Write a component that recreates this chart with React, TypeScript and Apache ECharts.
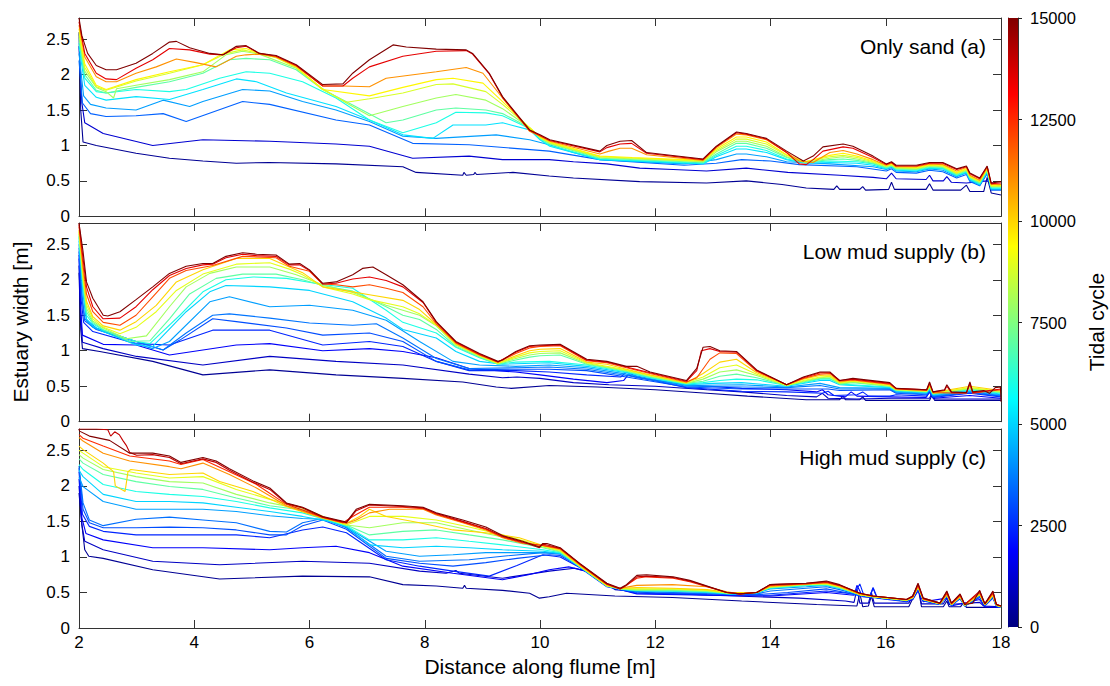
import React, { useEffect, useRef } from "react";
import * as echarts from "echarts";

type Pt = [number, number];

const X_MIN = 2, X_MAX = 18, X_STEP = 2;
const Y_MIN = 0, Y_MAX = 2.8, Y_STEP = 0.5;
const CYCLE_MIN = 0, CYCLE_MAX = 15000, CYCLE_STEP = 2500;

const PANEL_TITLES = ["Only sand (a)", "Low mud supply (b)", "High mud supply (c)"];
const X_TITLE = "Distance along flume [m]";
const Y_TITLE = "Estuary width [m]";
const CBAR_TITLE = "Tidal cycle";

// ---------------- Panel (a) Only sand ----------------
const A_CYCLES = [300, 1200, 3300, 4200, 5200, 6000, 7000, 8000, 8800, 9500, 11000, 13500, 15000];
const A_0300: Pt[] = [[2,2.6],[2.03,1.5],[2.07,1.05],[2.3,1.0],[2.99,0.89],[3.57,0.82],[4.15,0.78],[4.73,0.75],[5.3,0.76],[6.46,0.74],[7.62,0.7],[7.85,0.62],[8.66,0.58],[8.68,0.62],[8.72,0.58],[8.85,0.59],[8.87,0.62],[8.9,0.59],[9.53,0.62],[10.16,0.57],[10.58,0.54],[11.73,0.49],[12.89,0.47],[13.58,0.5],[14.2,0.45],[14.62,0.4],[15.1,0.38],[15.15,0.43],[15.2,0.38],[15.55,0.38],[15.6,0.42],[15.65,0.37],[16.05,0.38],[16.1,0.48],[16.15,0.38],[16.7,0.38],[16.76,0.46],[16.82,0.37],[17.3,0.37],[17.4,0.44],[17.46,0.35],[17.7,0.35],[17.76,0.55],[17.83,0.33],[18,0.3]];
const A_1200: Pt[] = [[2,2.4],[2.05,1.6],[2.1,1.32],[2.42,1.17],[3.28,1.0],[4.15,1.08],[5.31,1.06],[6.46,1.02],[7.04,0.99],[7.79,0.82],[8.77,0.85],[9.35,0.8],[10.16,0.8],[10.58,0.77],[11.16,0.74],[11.73,0.68],[12.31,0.66],[12.89,0.64],[13.58,0.68],[14.3,0.62],[15.2,0.58],[15.78,0.55],[16.01,0.53],[16.1,0.61],[16.18,0.53],[16.7,0.52],[16.76,0.58],[16.82,0.5],[17.0,0.5],[17.06,0.56],[17.14,0.48],[17.4,0.47],[17.76,0.5],[18,0.42]];
const A_3300: Pt[] = [[2,2.2],[2.06,1.6],[2.2,1.45],[2.47,1.41],[2.99,1.42],[3.46,1.45],[3.86,1.34],[4.84,1.62],[5.31,1.58],[6.46,1.36],[7.04,1.29],[7.79,1.03],[8.77,1.01],[10.16,0.92],[11.04,0.8],[12.5,0.72],[13.06,0.75],[13.5,0.8],[14.0,0.78],[14.5,0.73],[15.5,0.7],[16.01,0.64],[16.1,0.67],[16.18,0.62],[16.53,0.61],[16.76,0.65],[16.99,0.63],[17.23,0.54],[17.4,0.59],[17.46,0.49],[17.63,0.43],[17.76,0.6],[17.83,0.37],[18,0.37]];
const A_4200: Pt[] = [[2,2.3],[2.08,1.7],[2.2,1.58],[2.47,1.53],[2.99,1.5],[3.46,1.64],[3.92,1.55],[4.15,1.62],[4.84,1.79],[5.31,1.77],[5.88,1.62],[6.46,1.5],[7.04,1.34],[7.62,1.13],[8.2,1.1],[9.24,1.15],[9.82,1.08],[10.16,1.01],[10.58,0.9],[11.04,0.8],[12.5,0.74],[13.06,0.8],[13.41,0.88],[13.58,0.88],[13.93,0.84],[14.28,0.77],[15.03,0.74],[15.78,0.7],[16.01,0.66],[16.1,0.69],[16.18,0.64],[16.53,0.63],[16.76,0.67],[16.99,0.65],[17.23,0.56],[17.4,0.61],[17.46,0.51],[17.63,0.44],[17.76,0.62],[17.83,0.38],[18,0.38]];
const A_5200: Pt[] = [[2,2.4],[2.1,1.85],[2.3,1.68],[2.47,1.64],[2.99,1.69],[3.57,1.65],[4.15,1.79],[4.73,1.94],[5.08,1.9],[5.6,1.74],[6.46,1.55],[7.04,1.36],[7.62,1.15],[8.14,1.1],[8.49,1.29],[9.06,1.29],[9.35,1.32],[9.82,1.22],[10.0,1.08],[10.17,0.99],[11.04,0.8],[12.83,0.74],[13.06,0.84],[13.41,0.95],[13.58,0.95],[13.93,0.9],[14.28,0.8],[14.6,0.75],[15.03,0.76],[15.5,0.75],[15.78,0.72],[16.01,0.67],[16.1,0.7],[16.18,0.65],[16.53,0.64],[16.76,0.68],[16.99,0.67],[17.23,0.57],[17.4,0.62],[17.46,0.52],[17.63,0.45],[17.76,0.63],[17.83,0.39],[18,0.39]];
const A_6000: Pt[] = [[2,2.45],[2.1,1.95],[2.3,1.76],[2.47,1.74],[2.99,1.79],[3.57,1.76],[3.86,1.79],[4.44,1.95],[4.9,2.04],[5.31,2.02],[5.88,1.9],[6.46,1.67],[7.04,1.36],[7.62,1.18],[8.2,1.32],[8.54,1.47],[9.06,1.46],[9.35,1.42],[9.82,1.24],[10.0,1.09],[10.17,1.0],[11.04,0.81],[12.83,0.75],[13.06,0.86],[13.41,0.99],[13.58,0.99],[13.93,0.93],[14.28,0.81],[14.6,0.76],[15.03,0.78],[15.5,0.77],[15.78,0.74],[16.01,0.68],[16.1,0.71],[16.18,0.66],[16.53,0.65],[16.76,0.69],[16.99,0.68],[17.23,0.58],[17.4,0.63],[17.46,0.53],[17.63,0.46],[17.76,0.64],[17.83,0.4],[18,0.4]];
const A_7000: Pt[] = [[2,2.5],[2.1,2.0],[2.3,1.78],[2.47,1.74],[2.99,1.82],[3.57,1.9],[4.15,2.02],[4.61,2.21],[4.9,2.23],[5.31,2.21],[5.77,2.07],[6.23,1.79],[6.75,1.57],[7.33,1.32],[7.62,1.36],[8.2,1.5],[8.54,1.53],[9.06,1.5],[9.35,1.45],[9.82,1.25],[10.0,1.1],[10.17,1.02],[11.04,0.82],[12.83,0.76],[13.06,0.88],[13.41,1.03],[13.58,1.03],[13.93,0.96],[14.28,0.83],[14.6,0.76],[15.03,0.8],[15.26,0.81],[15.5,0.79],[15.78,0.75],[16.01,0.69],[16.1,0.71],[16.18,0.67],[16.53,0.66],[16.76,0.7],[16.99,0.69],[17.23,0.59],[17.4,0.64],[17.46,0.54],[17.63,0.47],[17.76,0.65],[17.83,0.41],[18,0.41]];
const A_8000: Pt[] = [[2,2.55],[2.1,2.05],[2.3,1.82],[2.47,1.76],[2.6,1.67],[2.65,1.8],[2.99,1.85],[3.57,1.93],[4.15,2.04],[4.55,2.28],[4.84,2.33],[5.13,2.29],[5.77,2.09],[6.23,1.8],[6.64,1.6],[7.04,1.42],[7.62,1.55],[8.2,1.67],[8.54,1.72],[9.06,1.64],[9.35,1.52],[9.82,1.25],[10.0,1.11],[10.17,1.03],[11.04,0.83],[12.83,0.77],[13.06,0.91],[13.41,1.06],[13.58,1.06],[13.93,0.99],[14.28,0.84],[14.6,0.76],[15.03,0.82],[15.26,0.84],[15.5,0.81],[15.78,0.76],[16.01,0.7],[16.1,0.72],[16.18,0.68],[16.53,0.67],[16.76,0.71],[16.99,0.7],[17.23,0.6],[17.4,0.65],[17.46,0.55],[17.63,0.48],[17.76,0.66],[17.83,0.42],[18,0.42]];
const A_8800: Pt[] = [[2,2.6],[2.1,2.1],[2.3,1.83],[2.47,1.78],[2.99,1.91],[3.57,2.02],[4.15,2.14],[4.55,2.3],[4.84,2.35],[5.13,2.3],[5.42,2.24],[5.77,2.1],[6.23,1.79],[6.64,1.61],[7.04,1.66],[7.62,1.74],[8.2,1.86],[8.49,1.87],[9.06,1.76],[9.35,1.58],[9.82,1.25],[10.0,1.12],[10.17,1.04],[11.04,0.84],[12.5,0.79],[12.83,0.78],[13.06,0.93],[13.41,1.09],[13.58,1.09],[13.93,1.02],[14.28,0.86],[14.6,0.77],[15.03,0.84],[15.26,0.86],[15.5,0.83],[15.78,0.77],[16.01,0.71],[16.1,0.73],[16.18,0.69],[16.53,0.68],[16.76,0.72],[16.99,0.71],[17.23,0.61],[17.4,0.66],[17.46,0.56],[17.63,0.49],[17.76,0.67],[17.83,0.43],[18,0.43]];
const A_9500: Pt[] = [[2,2.65],[2.1,2.15],[2.3,1.85],[2.47,1.79],[2.99,1.93],[3.57,2.04],[4.15,2.14],[4.61,2.35],[4.9,2.37],[5.13,2.3],[5.42,2.25],[5.77,2.11],[6.23,1.79],[7.04,1.7],[7.62,1.82],[8.2,1.93],[8.49,1.95],[9.01,1.88],[9.35,1.62],[9.82,1.25],[10.0,1.12],[10.17,1.05],[11.04,0.85],[11.6,0.83],[12.5,0.8],[12.83,0.79],[13.06,0.95],[13.41,1.12],[13.58,1.12],[13.93,1.05],[14.28,0.87],[14.6,0.77],[15.03,0.86],[15.26,0.89],[15.5,0.85],[15.78,0.78],[16.01,0.72],[16.1,0.74],[16.18,0.7],[16.53,0.69],[16.76,0.73],[16.99,0.72],[17.23,0.62],[17.4,0.67],[17.46,0.57],[17.63,0.5],[17.76,0.68],[17.83,0.44],[18,0.44]];
const A_11000: Pt[] = [[2,2.7],[2.1,2.25],[2.3,1.97],[2.47,1.9],[2.65,1.9],[2.99,2.02],[3.34,2.11],[3.69,2.22],[4.03,2.17],[4.38,2.11],[4.73,2.26],[4.9,2.28],[5.13,2.29],[5.42,2.25],[5.77,2.12],[6.23,1.84],[6.58,1.84],[7.04,1.83],[7.33,1.95],[8.2,2.04],[8.72,2.1],[9.01,2.02],[9.35,1.67],[9.82,1.2],[10.0,1.13],[10.17,1.06],[11.04,0.88],[11.2,0.92],[11.39,0.96],[11.59,0.96],[11.85,0.87],[12.83,0.79],[13.06,0.97],[13.41,1.16],[13.58,1.15],[13.93,1.08],[14.28,0.9],[14.5,0.78],[14.74,0.76],[15.03,0.9],[15.26,0.93],[15.5,0.88],[15.78,0.8],[16.01,0.72],[16.1,0.75],[16.18,0.7],[16.53,0.7],[16.76,0.74],[16.99,0.73],[17.23,0.64],[17.4,0.69],[17.46,0.58],[17.63,0.51],[17.76,0.69],[17.83,0.45],[18,0.45]];
const A_13500: Pt[] = [[2,2.75],[2.1,2.3],[2.3,2.02],[2.47,1.94],[2.65,1.93],[2.99,2.09],[3.28,2.21],[3.57,2.37],[3.92,2.35],[4.27,2.29],[4.5,2.28],[4.73,2.38],[4.9,2.4],[5.13,2.3],[5.42,2.26],[5.77,2.13],[6.23,1.84],[6.58,1.84],[6.75,1.95],[7.04,2.11],[7.62,2.26],[8.2,2.33],[8.72,2.34],[8.83,2.29],[9.12,2.01],[9.35,1.68],[9.82,1.21],[10.0,1.14],[10.17,1.07],[11.04,0.91],[11.16,0.97],[11.39,1.02],[11.59,1.03],[11.85,0.89],[12.83,0.8],[13.06,0.98],[13.41,1.18],[13.58,1.16],[13.93,1.09],[14.28,0.9],[14.5,0.74],[14.62,0.73],[14.74,0.8],[14.91,0.92],[15.26,0.98],[15.43,0.96],[15.78,0.83],[16.01,0.73],[16.1,0.76],[16.18,0.71],[16.53,0.71],[16.76,0.75],[16.99,0.75],[17.23,0.66],[17.4,0.7],[17.46,0.6],[17.63,0.53],[17.76,0.7],[17.83,0.46],[18,0.47]];
const A_15000: Pt[] = [[2,2.8],[2.05,2.55],[2.15,2.3],[2.3,2.13],[2.47,2.07],[2.65,2.07],[2.99,2.16],[3.28,2.3],[3.57,2.46],[3.69,2.47],[3.92,2.38],[4.27,2.3],[4.5,2.28],[4.73,2.4],[4.9,2.41],[5.13,2.3],[5.42,2.27],[5.77,2.14],[6.23,1.86],[6.58,1.87],[6.75,2.02],[7.04,2.21],[7.45,2.42],[7.68,2.39],[8.2,2.36],[8.72,2.35],[8.83,2.3],[9.12,2.02],[9.35,1.69],[9.82,1.22],[10.0,1.15],[10.17,1.08],[11.04,0.92],[11.16,1.0],[11.39,1.06],[11.59,1.07],[11.85,0.9],[12.83,0.81],[13.06,0.99],[13.41,1.19],[13.58,1.17],[13.93,1.1],[14.28,0.92],[14.57,0.78],[14.74,0.85],[14.91,0.98],[15.26,1.02],[15.43,0.99],[15.78,0.85],[16.01,0.74],[16.1,0.77],[16.18,0.72],[16.53,0.72],[16.76,0.76],[16.99,0.76],[17.23,0.67],[17.4,0.71],[17.46,0.61],[17.63,0.54],[17.76,0.71],[17.83,0.47],[18,0.49]];
const A_LINES: Pt[][] = [A_0300, A_1200, A_3300, A_4200, A_5200, A_6000, A_7000, A_8000, A_8800, A_9500, A_11000, A_13500, A_15000];

// ---------------- Panel (b) Low mud supply ----------------
const B_CYCLES = [300, 1000, 1800, 2400, 3000, 3600, 4200, 5000, 6000, 7000, 8000, 9000, 10000, 12000, 13500, 15000];
const B_0300: Pt[] = [[2,2.1],[2.03,1.3],[2.06,1.03],[2.36,0.99],[3.28,0.85],[4.15,0.66],[5.31,0.73],[6.46,0.66],[7.62,0.61],[8.66,0.56],[9.24,0.49],[9.5,0.47],[10.16,0.51],[11.0,0.49],[12.0,0.45],[12.9,0.4],[13.6,0.36],[14.62,0.31],[15.2,0.31],[15.26,0.36],[15.3,0.31],[15.55,0.31],[15.6,0.35],[15.65,0.3],[16.76,0.3],[16.8,0.37],[16.85,0.3],[18,0.3]];
const B_1000: Pt[] = [[2,2.2],[2.03,1.5],[2.06,1.12],[2.42,1.03],[3.0,0.92],[4.15,0.8],[5.31,0.92],[6.46,0.85],[7.62,0.8],[8.77,0.67],[9.35,0.62],[9.6,0.63],[10.0,0.61],[10.58,0.55],[11.2,0.52],[12.0,0.5],[12.9,0.45],[13.5,0.42],[14.28,0.37],[14.8,0.35],[14.9,0.4],[15.0,0.33],[15.5,0.32],[16.1,0.33],[16.76,0.33],[16.8,0.4],[16.85,0.32],[18,0.32]];
const B_1800: Pt[] = [[2,2.3],[2.03,1.6],[2.06,1.22],[2.42,1.09],[2.99,1.08],[3.57,0.94],[4.73,1.08],[5.31,1.1],[6.23,1.0],[7.04,1.03],[7.62,0.99],[8.2,0.9],[8.77,0.75],[9.58,0.7],[10.0,0.66],[10.58,0.6],[11.16,0.55],[11.45,0.58],[11.53,0.66],[11.7,0.62],[12.54,0.52],[13.5,0.47],[14.28,0.45],[14.8,0.42],[14.9,0.45],[15.0,0.38],[15.3,0.35],[15.4,0.42],[15.5,0.36],[16.07,0.35],[16.7,0.34],[16.76,0.42],[16.82,0.33],[17.46,0.37],[18,0.33]];
const B_2400: Pt[] = [[2,2.35],[2.04,1.7],[2.08,1.4],[2.24,1.27],[2.99,1.1],[3.57,1.08],[4.32,1.29],[5.31,1.29],[6.23,1.08],[7.04,1.13],[7.62,1.06],[8.2,0.85],[8.77,0.72],[9.58,0.72],[10.16,0.7],[10.81,0.66],[11.4,0.63],[11.5,0.7],[11.7,0.63],[12.54,0.48],[13.5,0.43],[14.28,0.42],[14.9,0.4],[15.0,0.43],[15.1,0.37],[15.5,0.38],[15.6,0.42],[15.7,0.36],[16.07,0.36],[16.18,0.38],[16.71,0.36],[16.76,0.42],[16.82,0.34],[17.46,0.4],[18,0.35]];
const B_3000: Pt[] = [[2,2.4],[2.05,1.75],[2.1,1.42],[2.3,1.3],[2.99,1.13],[3.46,1.01],[3.75,1.15],[4.32,1.45],[4.73,1.41],[5.6,1.32],[6.23,1.22],[7.04,1.25],[7.62,1.13],[8.2,0.85],[8.77,0.73],[9.58,0.74],[10.16,0.74],[10.81,0.72],[11.5,0.63],[12.54,0.49],[13.5,0.46],[14.28,0.46],[15.0,0.46],[15.2,0.44],[16.07,0.45],[16.18,0.4],[16.71,0.38],[16.76,0.43],[16.82,0.35],[17.46,0.41],[18,0.36]];
const B_3600: Pt[] = [[2,2.45],[2.05,1.8],[2.1,1.45],[2.3,1.32],[2.99,1.13],[3.46,1.01],[3.86,1.25],[4.32,1.5],[4.61,1.52],[5.31,1.46],[6.0,1.39],[6.75,1.36],[7.16,1.38],[7.62,1.18],[8.2,0.89],[8.77,0.75],[9.58,0.76],[10.16,0.77],[10.81,0.74],[11.5,0.65],[12.54,0.5],[13.5,0.49],[14.28,0.48],[14.86,0.51],[15.2,0.46],[16.07,0.46],[16.18,0.41],[16.71,0.39],[16.76,0.44],[16.82,0.36],[17.46,0.42],[18,0.37]];
const B_4200: Pt[] = [[2,2.5],[2.07,1.8],[2.13,1.42],[2.24,1.33],[2.42,1.27],[2.99,1.1],[3.28,1.03],[3.57,1.13],[4.27,1.69],[4.61,1.76],[5.31,1.62],[6.0,1.64],[6.75,1.57],[7.33,1.43],[7.91,1.13],[8.49,0.85],[8.95,0.8],[9.58,0.78],[10.16,0.8],[10.81,0.76],[11.5,0.67],[12.54,0.51],[13.5,0.52],[14.28,0.49],[14.86,0.54],[15.2,0.48],[16.07,0.47],[16.18,0.42],[16.71,0.4],[16.76,0.45],[16.82,0.37],[17.46,0.43],[18,0.38]];
const B_5000: Pt[] = [[2,2.55],[2.07,1.85],[2.13,1.45],[2.24,1.35],[2.42,1.27],[2.99,1.08],[3.28,1.06],[3.86,1.55],[4.27,1.83],[4.55,1.92],[5.31,1.9],[6.0,1.85],[6.75,1.69],[7.33,1.46],[7.62,1.3],[8.2,1.18],[8.54,0.99],[8.95,0.85],[9.35,0.81],[10.16,0.83],[10.81,0.78],[11.5,0.69],[12.54,0.52],[13.0,0.54],[13.5,0.55],[14.28,0.5],[14.86,0.58],[15.03,0.58],[15.2,0.52],[16.07,0.48],[16.18,0.43],[16.71,0.41],[16.76,0.46],[16.82,0.38],[17.46,0.44],[18,0.39]];
const B_6000: Pt[] = [[2,2.6],[2.07,1.9],[2.13,1.5],[2.24,1.38],[2.42,1.29],[2.99,1.13],[3.23,1.1],[3.75,1.5],[4.15,1.83],[4.55,2.0],[5.02,2.04],[5.6,2.02],[6.17,1.94],[6.75,1.88],[7.33,1.57],[7.62,1.4],[8.2,1.25],[8.54,1.05],[8.95,0.9],[9.27,0.81],[9.58,0.84],[10.16,0.85],[10.81,0.8],[11.5,0.7],[11.91,0.62],[12.54,0.53],[12.83,0.55],[13.12,0.58],[13.41,0.6],[13.76,0.59],[14.28,0.51],[14.57,0.55],[14.86,0.6],[15.03,0.6],[15.2,0.53],[16.07,0.49],[16.18,0.44],[16.71,0.42],[16.76,0.47],[16.82,0.39],[17.46,0.45],[18,0.4]];
const B_7000: Pt[] = [[2,2.62],[2.07,1.95],[2.13,1.55],[2.24,1.4],[2.42,1.3],[2.88,1.13],[3.23,1.14],[3.57,1.45],[3.92,1.8],[4.38,2.02],[4.84,2.08],[5.42,2.08],[5.88,2.0],[6.23,1.92],[6.75,1.84],[7.33,1.62],[7.62,1.5],[7.91,1.44],[8.2,1.3],[8.54,1.06],[8.95,0.91],[9.27,0.81],[9.58,0.87],[9.82,0.91],[10.0,0.93],[10.35,0.94],[10.81,0.81],[11.5,0.71],[11.91,0.63],[12.54,0.54],[12.83,0.57],[13.12,0.64],[13.41,0.67],[13.76,0.62],[14.28,0.51],[14.57,0.56],[14.86,0.61],[15.03,0.61],[15.2,0.53],[15.43,0.55],[16.07,0.5],[16.18,0.44],[16.71,0.42],[16.76,0.48],[16.82,0.39],[17.46,0.46],[18,0.41]];
const B_8000: Pt[] = [[2,2.65],[2.07,2.0],[2.13,1.6],[2.24,1.42],[2.42,1.32],[2.82,1.17],[3.17,1.21],[3.57,1.62],[3.86,1.9],[4.27,2.09],[4.73,2.18],[5.31,2.18],[5.77,2.07],[6.23,1.93],[6.75,1.82],[7.33,1.64],[7.62,1.57],[7.91,1.5],[8.2,1.35],[8.54,1.08],[8.95,0.92],[9.27,0.82],[9.58,0.89],[9.82,0.94],[10.0,0.96],[10.35,0.97],[10.81,0.82],[11.5,0.72],[11.91,0.64],[12.54,0.54],[12.83,0.6],[13.12,0.7],[13.41,0.73],[13.76,0.65],[14.28,0.51],[14.57,0.57],[14.86,0.62],[15.03,0.63],[15.2,0.54],[15.43,0.56],[16.07,0.5],[16.18,0.45],[16.71,0.43],[16.76,0.49],[16.82,0.4],[17.46,0.47],[18,0.42]];
const B_9000: Pt[] = [[2,2.68],[2.07,2.05],[2.13,1.65],[2.24,1.45],[2.42,1.33],[2.71,1.24],[2.99,1.33],[3.34,1.55],[3.69,1.85],[4.15,2.08],[4.73,2.22],[5.31,2.24],[5.65,2.15],[5.88,2.07],[6.23,1.9],[6.75,1.8],[7.04,1.72],[7.62,1.62],[7.91,1.52],[8.2,1.36],[8.54,1.09],[8.95,0.93],[9.27,0.82],[9.58,0.91],[9.82,0.97],[10.0,0.99],[10.35,1.0],[10.81,0.83],[11.5,0.73],[11.91,0.65],[12.54,0.55],[12.83,0.63],[13.12,0.76],[13.41,0.8],[13.76,0.67],[14.28,0.51],[14.57,0.58],[14.86,0.63],[15.03,0.64],[15.2,0.55],[15.43,0.57],[16.07,0.51],[16.18,0.45],[16.71,0.43],[16.76,0.5],[16.82,0.4],[17.46,0.48],[18,0.43]];
const B_10000: Pt[] = [[2,2.7],[2.07,2.1],[2.13,1.7],[2.24,1.48],[2.42,1.35],[2.71,1.29],[2.99,1.41],[3.34,1.64],[3.69,1.97],[4.15,2.14],[4.73,2.3],[5.31,2.3],[5.65,2.18],[5.88,2.1],[6.23,1.9],[6.75,1.83],[7.04,1.79],[7.62,1.71],[7.91,1.58],[8.2,1.37],[8.54,1.1],[8.95,0.94],[9.27,0.83],[9.58,0.93],[9.82,1.0],[10.0,1.02],[10.35,1.03],[10.81,0.84],[11.16,0.81],[11.5,0.74],[11.91,0.66],[12.54,0.55],[12.83,0.68],[13.12,0.84],[13.41,0.88],[13.76,0.69],[14.28,0.52],[14.57,0.6],[14.86,0.65],[15.03,0.66],[15.2,0.56],[15.43,0.58],[16.07,0.52],[16.18,0.46],[16.71,0.44],[16.76,0.52],[16.82,0.41],[17.46,0.5],[18,0.44]];
const B_12000: Pt[] = [[2,2.75],[2.07,2.2],[2.13,1.8],[2.24,1.55],[2.42,1.4],[2.71,1.36],[2.99,1.5],[3.28,1.76],[3.57,2.02],[3.86,2.13],[4.32,2.2],[4.84,2.33],[5.42,2.31],[5.65,2.19],[6.0,2.12],[6.23,1.94],[6.46,1.93],[6.75,1.9],[7.04,1.93],[7.33,1.88],[7.62,1.82],[7.97,1.62],[8.2,1.38],[8.54,1.11],[8.95,0.94],[9.27,0.84],[9.58,0.96],[9.82,1.04],[10.0,1.06],[10.35,1.07],[10.81,0.86],[11.16,0.83],[11.5,0.76],[11.91,0.68],[12.54,0.56],[12.72,0.62],[12.95,0.88],[13.12,0.97],[13.41,0.96],[13.76,0.71],[14.28,0.52],[14.57,0.61],[14.86,0.67],[15.03,0.68],[15.2,0.57],[15.43,0.59],[16.07,0.53],[16.18,0.46],[16.71,0.44],[16.76,0.53],[16.82,0.41],[17.4,0.4],[17.46,0.53],[17.51,0.4],[18,0.45]];
const B_13500: Pt[] = [[2,2.78],[2.07,2.3],[2.13,1.9],[2.24,1.62],[2.42,1.45],[2.71,1.46],[2.99,1.62],[3.28,1.86],[3.57,2.06],[3.86,2.16],[4.15,2.21],[4.32,2.22],[4.55,2.31],[4.84,2.36],[5.08,2.34],[5.42,2.33],[5.65,2.21],[5.83,2.21],[6.0,2.13],[6.23,1.94],[6.46,1.95],[6.75,2.01],[7.04,2.04],[7.33,1.99],[7.62,1.9],[7.97,1.68],[8.2,1.4],[8.54,1.12],[8.95,0.95],[9.27,0.84],[9.58,0.98],[9.82,1.06],[10.0,1.07],[10.35,1.08],[10.81,0.87],[11.16,0.84],[11.5,0.77],[11.91,0.69],[12.54,0.57],[12.72,0.72],[12.8,1.0],[12.95,1.03],[13.12,0.99],[13.41,0.98],[13.76,0.72],[14.28,0.52],[14.57,0.62],[14.86,0.69],[15.03,0.69],[15.2,0.58],[15.43,0.6],[16.07,0.54],[16.18,0.47],[16.71,0.45],[16.76,0.54],[16.82,0.42],[17.02,0.44],[17.06,0.5],[17.14,0.41],[17.4,0.41],[17.46,0.54],[17.51,0.41],[18,0.46]];
const B_15000: Pt[] = [[2,2.8],[2.07,2.4],[2.13,1.97],[2.24,1.74],[2.42,1.5],[2.5,1.49],[2.71,1.55],[2.99,1.72],[3.28,1.9],[3.57,2.09],[3.86,2.19],[4.15,2.23],[4.32,2.23],[4.55,2.33],[4.84,2.38],[5.08,2.36],[5.42,2.35],[5.65,2.22],[5.83,2.23],[6.0,2.14],[6.23,1.95],[6.46,1.97],[6.75,2.07],[6.92,2.16],[7.1,2.18],[7.33,2.07],[7.62,1.93],[7.97,1.69],[8.2,1.41],[8.54,1.13],[8.95,0.96],[9.27,0.85],[9.35,0.87],[9.58,0.99],[9.82,1.07],[10.0,1.08],[10.35,1.09],[10.81,0.88],[11.16,0.85],[11.5,0.78],[11.68,0.78],[11.91,0.7],[12.54,0.58],[12.72,0.75],[12.83,1.05],[12.95,1.06],[13.12,1.0],[13.41,0.99],[13.76,0.73],[14.28,0.52],[14.57,0.63],[14.86,0.7],[15.03,0.7],[15.2,0.58],[15.43,0.61],[16.07,0.55],[16.18,0.47],[16.71,0.45],[16.76,0.56],[16.82,0.42],[17.02,0.45],[17.06,0.52],[17.14,0.42],[17.4,0.41],[17.46,0.56],[17.51,0.42],[17.7,0.44],[17.8,0.4],[17.9,0.48],[17.99,0.49],[18,0.28]];
const B_LINES: Pt[][] = [B_0300, B_1000, B_1800, B_2400, B_3000, B_3600, B_4200, B_5000, B_6000, B_7000, B_8000, B_9000, B_10000, B_12000, B_13500, B_15000];

// ---------------- Panel (c) High mud supply ----------------
const C_CYCLES = [300, 1000, 1800, 2400, 3000, 3500, 4200, 5000, 6000, 7000, 8000, 9000, 10000, 11000, 12500, 14000, 15000];
const C_0300: Pt[] = [[2,1.9],[2.05,1.45],[2.1,1.1],[2.17,1.01],[2.42,0.98],[3.28,0.82],[4.44,0.69],[5.88,0.73],[7.04,0.72],[7.62,0.61],[8.2,0.59],[8.66,0.56],[8.69,0.6],[8.72,0.56],[9.35,0.53],[9.82,0.49],[9.99,0.42],[10.16,0.44],[10.46,0.49],[11.3,0.45],[12.3,0.43],[13.5,0.38],[14.8,0.33],[15.5,0.31],[15.55,0.49],[15.6,0.3],[15.7,0.31],[15.75,0.45],[15.8,0.3],[16.4,0.3],[16.56,0.57],[16.62,0.3],[17.0,0.3],[17.06,0.38],[17.1,0.3],[17.3,0.3],[17.35,0.36],[17.4,0.29],[18,0.29]];
const C_1000: Pt[] = [[2,2.0],[2.05,1.45],[2.1,1.22],[2.42,1.1],[3.28,0.94],[4.44,0.89],[5.88,0.94],[7.04,0.91],[7.91,0.8],[8.37,0.77],[8.54,0.81],[8.6,0.77],[9.35,0.7],[10.16,0.8],[10.6,0.84],[10.8,0.8],[11.3,0.54],[12.0,0.49],[13.0,0.46],[14.5,0.42],[15.3,0.38],[15.45,0.36],[15.5,0.55],[15.55,0.35],[15.7,0.35],[15.75,0.5],[15.8,0.35],[16.4,0.35],[16.56,0.6],[16.62,0.34],[17.0,0.34],[17.06,0.42],[17.1,0.33],[17.63,0.36],[17.7,0.31],[18,0.3]];
const C_1800: Pt[] = [[2,2.1],[2.05,1.55],[2.12,1.33],[2.42,1.24],[3.28,1.13],[4.15,1.13],[5.31,1.1],[5.88,1.13],[6.46,1.15],[7.04,1.06],[7.62,0.87],[8.49,0.77],[9.35,0.68],[9.8,0.75],[10.16,0.82],[10.5,0.86],[10.8,0.8],[11.3,0.56],[11.68,0.48],[12.9,0.46],[14.0,0.45],[14.97,0.5],[15.45,0.46],[15.5,0.6],[15.6,0.44],[15.72,0.43],[15.78,0.56],[15.85,0.42],[16.36,0.37],[16.47,0.4],[16.56,0.52],[16.65,0.37],[17.06,0.42],[17.14,0.31],[17.63,0.4],[17.72,0.3],[18,0.29]];
const C_2400: Pt[] = [[2,2.2],[2.06,1.6],[2.18,1.43],[2.42,1.36],[2.99,1.31],[4.73,1.31],[5.31,1.27],[5.88,1.38],[6.23,1.42],[6.64,1.34],[7.33,0.96],[7.91,0.87],[8.49,0.8],[9.12,0.73],[9.6,0.88],[10.05,1.03],[10.35,1.0],[10.69,0.85],[11.16,0.58],[11.68,0.49],[12.9,0.47],[14.0,0.46],[14.97,0.52],[15.45,0.48],[15.55,0.62],[15.62,0.46],[15.72,0.44],[15.78,0.57],[15.85,0.43],[16.36,0.38],[16.47,0.41],[16.56,0.54],[16.65,0.38],[16.94,0.33],[17.06,0.44],[17.14,0.32],[17.29,0.41],[17.37,0.31],[17.63,0.43],[17.72,0.31],[17.86,0.42],[17.92,0.3],[18,0.29]];
const C_3000: Pt[] = [[2,2.25],[2.07,1.67],[2.18,1.48],[2.42,1.41],[2.99,1.41],[3.57,1.42],[4.15,1.41],[4.73,1.38],[5.31,1.31],[5.6,1.31],[5.88,1.44],[6.23,1.52],[6.64,1.39],[7.33,0.98],[7.91,0.91],[8.49,0.87],[9.06,0.92],[9.6,0.98],[10.16,1.03],[10.35,1.02],[10.69,0.86],[11.16,0.59],[11.68,0.5],[12.9,0.48],[13.76,0.47],[14.3,0.5],[14.97,0.55],[15.3,0.5],[15.55,0.45],[15.78,0.43],[16.36,0.38],[16.47,0.42],[16.56,0.56],[16.65,0.39],[16.94,0.33],[17.06,0.45],[17.14,0.32],[17.29,0.42],[17.37,0.31],[17.63,0.45],[17.72,0.32],[17.86,0.44],[17.92,0.31],[18,0.29]];
const C_3500: Pt[] = [[2,2.28],[2.07,1.76],[2.18,1.52],[2.42,1.44],[2.99,1.53],[3.57,1.56],[4.15,1.52],[4.73,1.48],[5.31,1.36],[5.6,1.35],[5.88,1.48],[6.23,1.54],[6.64,1.41],[7.33,1.01],[7.91,0.94],[8.77,0.96],[9.35,1.01],[10.05,1.06],[10.35,1.04],[10.69,0.87],[11.16,0.6],[11.39,0.54],[11.68,0.51],[12.9,0.49],[13.76,0.48],[14.0,0.52],[14.62,0.56],[14.97,0.58],[15.2,0.54],[15.55,0.46],[15.78,0.43],[16.36,0.38],[16.47,0.42],[16.56,0.56],[16.65,0.39],[16.94,0.33],[17.06,0.45],[17.14,0.32],[17.29,0.42],[17.37,0.31],[17.63,0.45],[17.72,0.32],[17.86,0.44],[17.92,0.31],[18,0.29]];
const C_4200: Pt[] = [[2,2.12],[2.07,1.99],[2.42,1.78],[2.99,1.67],[3.57,1.67],[4.15,1.67],[4.73,1.64],[5.31,1.58],[5.88,1.54],[6.23,1.53],[6.64,1.42],[7.33,1.08],[7.91,1.01],[8.49,1.03],[9.06,1.06],[10.05,1.06],[10.35,1.05],[10.69,0.88],[11.16,0.6],[11.39,0.55],[11.68,0.52],[12.3,0.52],[12.9,0.5],[13.3,0.48],[13.76,0.49],[13.99,0.55],[14.62,0.58],[14.97,0.6],[15.2,0.56],[15.55,0.47],[15.78,0.44],[16.36,0.39],[16.47,0.43],[16.56,0.58],[16.65,0.4],[16.94,0.34],[17.06,0.47],[17.14,0.33],[17.29,0.44],[17.37,0.32],[17.63,0.47],[17.72,0.33],[17.86,0.46],[17.92,0.32],[18,0.3]];
const C_5000: Pt[] = [[2,2.22],[2.07,2.13],[2.42,1.88],[2.99,1.78],[3.57,1.78],[4.15,1.76],[4.73,1.7],[5.31,1.64],[5.88,1.57],[6.35,1.5],[6.64,1.43],[7.04,1.17],[7.62,1.13],[8.2,1.15],[8.77,1.13],[9.35,1.1],[10.05,1.08],[10.35,1.05],[10.69,0.86],[11.16,0.59],[11.39,0.55],[11.68,0.52],[12.3,0.52],[12.9,0.5],[13.3,0.48],[13.76,0.49],[13.99,0.56],[14.62,0.6],[14.97,0.6],[15.2,0.56],[15.55,0.47],[15.78,0.44],[16.36,0.39],[16.47,0.43],[16.56,0.58],[16.65,0.4],[16.94,0.34],[17.06,0.47],[17.14,0.33],[17.29,0.44],[17.37,0.32],[17.63,0.47],[17.72,0.33],[17.86,0.46],[17.92,0.32],[18,0.3]];
const C_6000: Pt[] = [[2,2.3],[2.07,2.23],[2.42,2.02],[2.99,1.92],[3.57,1.88],[4.15,1.85],[4.73,1.78],[5.31,1.69],[5.88,1.62],[6.35,1.51],[6.64,1.44],[7.04,1.24],[7.62,1.24],[8.2,1.27],[8.77,1.22],[9.35,1.17],[10.05,1.1],[10.35,1.06],[10.69,0.86],[11.16,0.59],[11.39,0.55],[11.68,0.53],[12.3,0.52],[12.9,0.51],[13.3,0.48],[13.76,0.5],[13.99,0.56],[14.62,0.6],[14.97,0.61],[15.2,0.56],[15.55,0.47],[15.78,0.44],[16.36,0.39],[16.47,0.43],[16.56,0.58],[16.65,0.4],[16.94,0.34],[17.06,0.47],[17.14,0.33],[17.29,0.44],[17.37,0.32],[17.63,0.47],[17.72,0.33],[17.86,0.46],[17.92,0.32],[18,0.3]];
const C_7000: Pt[] = [[2,2.38],[2.07,2.32],[2.42,2.16],[2.99,2.06],[3.57,1.99],[4.15,1.95],[4.73,1.83],[5.31,1.72],[5.88,1.66],[6.35,1.52],[6.64,1.45],[7.04,1.31],[7.62,1.36],[8.2,1.38],[8.77,1.31],[9.35,1.24],[10.05,1.13],[10.35,1.07],[10.69,0.87],[11.16,0.59],[11.39,0.55],[11.68,0.53],[12.3,0.53],[12.9,0.51],[13.3,0.49],[13.76,0.5],[13.99,0.57],[14.62,0.61],[14.97,0.61],[15.2,0.57],[15.55,0.47],[15.78,0.44],[16.36,0.39],[16.47,0.43],[16.56,0.58],[16.65,0.4],[16.94,0.34],[17.06,0.47],[17.14,0.33],[17.29,0.44],[17.37,0.32],[17.63,0.47],[17.72,0.33],[17.86,0.46],[17.92,0.32],[18,0.3]];
const C_8000: Pt[] = [[2,2.44],[2.07,2.39],[2.42,2.23],[2.99,2.13],[3.57,2.06],[4.15,2.04],[4.73,1.88],[5.31,1.76],[5.88,1.67],[6.35,1.52],[6.64,1.45],[7.04,1.41],[7.62,1.48],[8.2,1.48],[8.77,1.38],[9.35,1.28],[10.05,1.14],[10.35,1.08],[10.69,0.87],[11.16,0.59],[11.39,0.55],[11.68,0.54],[12.3,0.54],[12.9,0.52],[13.3,0.49],[13.76,0.5],[13.99,0.57],[14.62,0.61],[14.97,0.62],[15.2,0.57],[15.55,0.47],[15.78,0.44],[16.36,0.39],[16.47,0.43],[16.56,0.58],[16.65,0.4],[16.94,0.34],[17.06,0.47],[17.14,0.33],[17.29,0.44],[17.37,0.32],[17.63,0.47],[17.72,0.33],[17.86,0.46],[17.92,0.32],[18,0.3]];
const C_9000: Pt[] = [[2,2.5],[2.07,2.46],[2.42,2.27],[2.99,2.18],[3.57,2.11],[4.15,2.13],[4.73,1.95],[5.31,1.81],[5.88,1.69],[6.35,1.53],[6.64,1.45],[7.04,1.57],[7.62,1.57],[8.2,1.52],[8.77,1.42],[9.35,1.31],[10.05,1.15],[10.35,1.09],[10.69,0.87],[11.16,0.6],[11.39,0.56],[11.68,0.55],[12.3,0.55],[12.9,0.53],[13.3,0.49],[13.76,0.5],[13.99,0.58],[14.62,0.62],[14.97,0.62],[15.2,0.58],[15.55,0.47],[15.78,0.44],[16.36,0.39],[16.47,0.43],[16.56,0.58],[16.65,0.4],[16.94,0.34],[17.06,0.47],[17.14,0.33],[17.29,0.44],[17.37,0.32],[17.63,0.47],[17.72,0.33],[17.86,0.46],[17.92,0.32],[18,0.3]];
const C_10000: Pt[] = [[2,2.56],[2.07,2.51],[2.42,2.32],[2.6,2.2],[2.63,2.0],[2.8,1.92],[2.85,2.2],[2.9,2.23],[3.57,2.16],[4.15,2.18],[4.44,2.06],[5.02,1.92],[5.6,1.71],[6.23,1.54],[6.64,1.47],[6.87,1.57],[7.04,1.67],[7.33,1.57],[7.91,1.48],[8.49,1.38],[9.06,1.34],[9.64,1.27],[10.05,1.16],[10.35,1.1],[10.69,0.88],[11.16,0.6],[11.39,0.56],[11.68,0.57],[12.3,0.56],[12.9,0.54],[13.3,0.5],[13.76,0.5],[13.99,0.58],[14.62,0.62],[14.97,0.63],[15.2,0.58],[15.55,0.47],[15.78,0.44],[16.36,0.39],[16.47,0.43],[16.56,0.58],[16.65,0.4],[16.94,0.34],[17.06,0.47],[17.14,0.33],[17.29,0.44],[17.37,0.32],[17.63,0.47],[17.72,0.33],[17.86,0.46],[17.92,0.32],[18,0.3]];
const C_11000: Pt[] = [[2,2.68],[2.07,2.63],[2.42,2.46],[2.88,2.35],[3.57,2.27],[3.77,2.24],[4.15,2.32],[4.61,2.16],[5.08,1.97],[5.6,1.72],[6.23,1.55],[6.64,1.47],[6.81,1.52],[7.04,1.62],[7.39,1.67],[7.97,1.67],[8.2,1.59],[8.66,1.48],[9.06,1.38],[9.35,1.27],[9.7,1.19],[10.05,1.16],[10.35,1.11],[10.69,0.89],[11.16,0.61],[11.39,0.56],[11.68,0.6],[12.3,0.61],[12.9,0.58],[13.24,0.51],[13.47,0.48],[13.76,0.5],[13.99,0.59],[14.62,0.62],[14.97,0.64],[15.2,0.59],[15.55,0.48],[15.78,0.45],[16.36,0.4],[16.47,0.44],[16.56,0.59],[16.65,0.41],[16.94,0.35],[17.06,0.48],[17.14,0.34],[17.29,0.45],[17.37,0.33],[17.63,0.49],[17.72,0.34],[17.86,0.48],[17.92,0.33],[18,0.31]];
const C_12500: Pt[] = [[2,2.72],[2.07,2.67],[2.42,2.56],[2.88,2.42],[3.57,2.35],[3.77,2.3],[4.15,2.37],[4.61,2.2],[5.08,2.02],[5.6,1.74],[6.23,1.56],[6.58,1.48],[6.75,1.57],[7.04,1.7],[7.62,1.7],[7.97,1.68],[8.2,1.6],[8.66,1.49],[9.06,1.39],[9.35,1.28],[9.7,1.2],[10.05,1.16],[10.35,1.12],[10.69,0.9],[11.16,0.62],[11.39,0.55],[11.5,0.6],[11.68,0.7],[11.85,0.72],[12.31,0.7],[12.6,0.65],[13.24,0.5],[13.47,0.48],[13.76,0.5],[13.99,0.6],[14.62,0.62],[14.97,0.64],[15.2,0.6],[15.55,0.49],[15.78,0.45],[16.36,0.4],[16.47,0.44],[16.56,0.6],[16.65,0.41],[16.94,0.35],[17.06,0.49],[17.14,0.34],[17.29,0.46],[17.37,0.33],[17.63,0.5],[17.72,0.34],[17.86,0.49],[17.92,0.33],[18,0.31]];
const C_14000: Pt[] = [[2,2.8],[2.3,2.8],[2.5,2.79],[2.55,2.7],[2.62,2.76],[2.7,2.72],[2.76,2.64],[2.82,2.57],[2.88,2.47],[3.0,2.43],[3.28,2.44],[3.57,2.4],[3.77,2.31],[4.15,2.38],[4.38,2.33],[4.61,2.22],[5.02,2.05],[5.31,1.95],[5.6,1.75],[5.88,1.69],[6.23,1.56],[6.64,1.48],[6.81,1.65],[7.04,1.73],[7.62,1.71],[7.97,1.69],[8.2,1.61],[8.66,1.5],[9.06,1.4],[9.35,1.29],[9.7,1.21],[9.99,1.13],[10.05,1.18],[10.16,1.16],[10.35,1.12],[10.69,0.9],[11.16,0.62],[11.39,0.55],[11.5,0.6],[11.68,0.72],[11.85,0.73],[12.31,0.71],[12.6,0.66],[13.24,0.5],[13.47,0.48],[13.76,0.5],[13.99,0.61],[14.62,0.63],[14.97,0.65],[15.2,0.6],[15.55,0.49],[15.78,0.45],[16.36,0.4],[16.47,0.45],[16.56,0.62],[16.65,0.42],[16.94,0.35],[17.06,0.51],[17.14,0.35],[17.29,0.47],[17.37,0.33],[17.63,0.52],[17.72,0.34],[17.86,0.51],[17.92,0.33],[18,0.31]];
const C_15000: Pt[] = [[2,2.8],[2.01,2.77],[2.18,2.7],[2.53,2.64],[2.88,2.46],[3.28,2.46],[3.57,2.42],[3.77,2.33],[4.15,2.4],[4.38,2.35],[4.61,2.24],[5.02,2.07],[5.31,1.97],[5.6,1.76],[5.88,1.7],[6.23,1.57],[6.64,1.49],[6.81,1.67],[7.04,1.74],[7.62,1.72],[7.97,1.7],[8.2,1.62],[8.66,1.52],[9.06,1.42],[9.35,1.3],[9.7,1.22],[9.99,1.14],[10.05,1.19],[10.12,1.19],[10.35,1.13],[10.69,0.91],[11.16,0.63],[11.39,0.56],[11.5,0.61],[11.68,0.74],[11.85,0.75],[12.31,0.72],[12.6,0.67],[13.24,0.5],[13.47,0.48],[13.76,0.5],[13.99,0.61],[14.62,0.63],[14.97,0.66],[15.2,0.61],[15.55,0.49],[15.78,0.45],[16.36,0.4],[16.47,0.45],[16.56,0.63],[16.65,0.42],[16.94,0.35],[17.06,0.52],[17.14,0.35],[17.29,0.48],[17.37,0.33],[17.51,0.35],[17.63,0.53],[17.72,0.34],[17.86,0.52],[17.92,0.33],[18,0.31]];
const C_LINES: Pt[][] = [C_0300, C_1000, C_1800, C_2400, C_3000, C_3500, C_4200, C_5000, C_6000, C_7000, C_8000, C_9000, C_10000, C_11000, C_12500, C_14000, C_15000];

const FONT = "'Liberation Sans', Arial, Helvetica, sans-serif";
const FRAME = "#333";

function jet(t: number): string {
  const c = (v: number) => Math.max(0, Math.min(1, v));
  const r = c(1.5 - Math.abs(4 * t - 3));
  const g = c(1.5 - Math.abs(4 * t - 2));
  const b = c(1.5 - Math.abs(4 * t - 1));
  return `rgb(${Math.round(r * 255)},${Math.round(g * 255)},${Math.round(b * 255)})`;
}

const PANELS = [
  { cycles: A_CYCLES, lines: A_LINES },
  { cycles: B_CYCLES, lines: B_LINES },
  { cycles: C_CYCLES, lines: C_LINES },
];

const GRID_LEFT = 79;
const GRID_WIDTH = 922;
const GRID_TOPS = [18, 223, 429];
const GRID_HEIGHTS = [198.3, 198.7, 199];
const TITLE_Y = [46, 251, 457];

function buildOption(): any {
  const grids: any[] = [];
  const xAxes: any[] = [];
  const yAxes: any[] = [];
  const series: any[] = [];
  const tickStyle = { lineStyle: { color: FRAME, width: 1 } };
  const lineStyleAx = { show: true, onZero: false, lineStyle: { color: FRAME, width: 1 } };
  const labelStyle = { color: "#000", fontSize: 17, fontFamily: FONT };

  PANELS.forEach((p, g) => {
    grids.push({ left: GRID_LEFT, top: GRID_TOPS[g], width: GRID_WIDTH, height: GRID_HEIGHTS[g], containLabel: false });
    const xBase = {
      gridIndex: g, type: "value", min: X_MIN, max: X_MAX, interval: X_STEP,
      axisLine: lineStyleAx, splitLine: { show: false },
      axisTick: { inside: true, length: 8, ...tickStyle },
    };
    xAxes.push({ ...xBase, position: "bottom", axisLabel: { show: g === 2, margin: 6, ...labelStyle } });
    xAxes.push({ ...xBase, position: "top", axisLabel: { show: false } });
    const yBase = {
      gridIndex: g, type: "value", min: Y_MIN, max: Y_MAX, interval: Y_STEP,
      axisLine: lineStyleAx, splitLine: { show: false },
      axisTick: { inside: true, length: 8, ...tickStyle },
    };
    yAxes.push({ ...yBase, position: "left", axisLabel: { show: true, margin: 9, showMaxLabel: false, ...labelStyle } });
    yAxes.push({ ...yBase, position: "right", axisLabel: { show: false } });

    p.lines.forEach((data, i) => {
      series.push({
        type: "line",
        xAxisIndex: g * 2,
        yAxisIndex: g * 2,
        data,
        symbol: "none",
        showSymbol: false,
        silent: true,
        clip: true,
        z: 2,
        lineStyle: { width: 1.1, color: jet(p.cycles[i] / CYCLE_MAX) },
      });
    });
  });

  // colour bar
  grids.push({ left: 1008, top: 18, width: 10, height: 609 });
  xAxes.push({ gridIndex: 3, type: "category", data: [""], show: false });
  const cbBase = {
    gridIndex: 3, type: "value", min: CYCLE_MIN, max: CYCLE_MAX, interval: CYCLE_STEP,
    axisLine: { show: true, onZero: false, lineStyle: { color: FRAME, width: 1 } },
    splitLine: { show: false },
  };
  yAxes.push({ ...cbBase, position: "left", axisTick: { show: false }, axisLabel: { show: false } });
  yAxes.push({
    ...cbBase,
    position: "right",
    axisTick: { show: true, inside: false, length: 4, lineStyle: { color: "#222", width: 1 } },
    axisLabel: { show: true, margin: 12, ...labelStyle, fontSize: 16.5, formatter: (v: number) => String(v) },
  });
  series.push({
    type: "bar",
    xAxisIndex: 6,
    yAxisIndex: 6,
    data: [CYCLE_MAX],
    barWidth: "100%",
    silent: true,
    z: 1,
    itemStyle: {
      color: new echarts.graphic.LinearGradient(0, 1, 0, 0, [
        { offset: 0, color: jet(0) },
        { offset: 0.125, color: jet(0.125) },
        { offset: 0.375, color: jet(0.375) },
        { offset: 0.5, color: jet(0.5) },
        { offset: 0.625, color: jet(0.625) },
        { offset: 0.875, color: jet(0.875) },
        { offset: 1, color: jet(1) },
      ]),
    },
  });

  const titleStyle = { fill: "#000", fontSize: 21, fontFamily: FONT };
  const graphic: any[] = [
    { type: "text", x: 20, y: 322, rotation: Math.PI / 2, style: { text: Y_TITLE, align: "center", verticalAlign: "middle", ...titleStyle } },
    { type: "text", x: 540, y: 666, style: { text: X_TITLE, align: "center", verticalAlign: "middle", ...titleStyle } },
    { type: "text", x: 1096, y: 322, rotation: Math.PI / 2, style: { text: CBAR_TITLE, align: "center", verticalAlign: "middle", ...titleStyle } },
  ];
  PANEL_TITLES.forEach((t, g) => {
    graphic.push({ type: "text", x: 986, y: TITLE_Y[g], z: 10, style: { text: t, align: "right", verticalAlign: "middle", ...titleStyle } });
  });

  return {
    animation: false,
    backgroundColor: "#fff",
    textStyle: { fontFamily: FONT },
    grid: grids,
    xAxis: xAxes,
    yAxis: yAxes,
    series,
    graphic,
  };
}

export default function App() {
  const ref = useRef<HTMLDivElement>(null);
  useEffect(() => {
    if (!ref.current) return;
    const chart = echarts.init(ref.current, undefined, { renderer: "svg" });
    chart.setOption(buildOption());
    return () => chart.dispose();
  }, []);
  return (
    <div
      ref={ref}
      style={{ position: "fixed", left: 0, top: 0, width: 1110, height: 686, background: "#fff" }}
    />
  );
}
